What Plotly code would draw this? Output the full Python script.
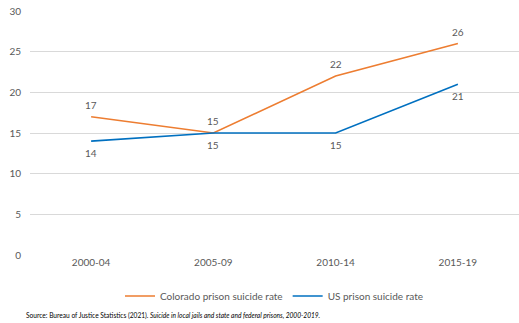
import plotly.graph_objects as go

categories = ["2000-04", "2005-09", "2010-14", "2015-19"]
colorado = [17, 15, 22, 26]
us = [14, 15, 15, 21]
y_ticks = [0, 5, 10, 15, 20, 25, 30]

FONT = "Lato"
GRAY = "#595959"

fig = go.Figure()
fig.add_trace(go.Scatter(
    x=categories, y=colorado, mode="lines", name="Colorado prison suicide rate",
    line=dict(color="#ED7D31", width=1.6),
))
fig.add_trace(go.Scatter(
    x=categories, y=us, mode="lines", name="US prison suicide rate",
    line=dict(color="#0070C0", width=1.6),
))

for c, v in zip(categories, colorado):
    fig.add_annotation(x=c, y=v, text=str(v), showarrow=False, yshift=12,
                       font=dict(family=FONT, size=10, color=GRAY))
for c, v in zip(categories, us):
    fig.add_annotation(x=c, y=v, text=str(v), showarrow=False, yshift=-12,
                       font=dict(family=FONT, size=10, color=GRAY))

fig.update_layout(
    width=519, height=323,
    margin=dict(l=30, r=0, t=11, b=68),
    paper_bgcolor="white", plot_bgcolor="white",
    font=dict(family=FONT, size=10, color=GRAY),
    showlegend=True,
    legend=dict(orientation="h", x=0.5, xanchor="center", y=-0.168, yanchor="middle",
                font=dict(family=FONT, size=10, color=GRAY), itemwidth=30,
                tracegroupgap=0),
    xaxis=dict(type="category", range=[-0.5, 3.5], showgrid=False, showline=False,
               zeroline=False, ticks="",
               tickfont=dict(family=FONT, size=10, color=GRAY)),
    yaxis=dict(range=[0, 30], tickvals=y_ticks, showgrid=True, gridcolor="#D9D9D9",
               gridwidth=1, zeroline=False, showline=False, ticks="",
               tickfont=dict(family=FONT, size=10, color=GRAY), ticklabelstandoff=8),
)

fig.add_annotation(
    text="Source: Bureau of Justice Statistics (2021). <i>Suicide in local jails and state and federal prisons, 2000-2019.</i>",
    xref="paper", yref="paper", x=-0.012, y=-0.246, xanchor="left", yanchor="middle",
    showarrow=False, font=dict(family=FONT, size=6.6, color="#000000"),
)

fig.write_html("out.html")
